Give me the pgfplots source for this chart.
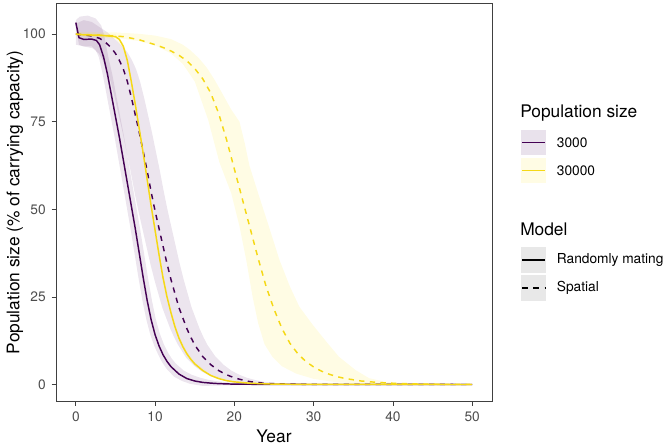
\documentclass[border=0pt]{standalone}
\usepackage{pgfplots}
\pgfplotsset{compat=1.18}
\usepackage{fontspec}
\setmainfont{TeX Gyre Heros}
\definecolor{cA}{HTML}{440154}
\definecolor{cB}{HTML}{F5D816}
\definecolor{fA}{HTML}{FDE725}
\definecolor{kA}{RGB}{233,226,236}
\definecolor{kB}{RGB}{255,252,228}
\definecolor{kG}{RGB}{232,232,232}
\newcommand{\smallf}{\fontsize{10.3}{12}\selectfont}
\newcommand{\titlef}{\fontsize{13}{15}\selectfont}
\begin{document}
\begin{tikzpicture}
\path[use as bounding box] (0,0) rectangle (501pt,333.75pt);
\begin{axis}[
  at={(42pt,32.5pt)}, anchor=south west,
  scale only axis, width=327pt, height=299pt,
  xmin=-2.5, xmax=52.5, ymin=-4.9, ymax=108.9,
  xtick={0,10,20,30,40,50}, ytick={0,25,50,75,100},
  tick align=outside, tick pos=left,
  major tick length=3.2pt,
  axis line style={black!75, line width=0.6pt},
  every tick/.style={black!75, line width=0.6pt},
  ticklabel style={font=\smallf, text=black!70},
  /pgf/number format/assume math mode=true,
  xticklabel style={yshift=-1pt},
  yticklabel style={xshift=-1pt},
  xlabel={Year}, ylabel={Population size (\% of carrying capacity)},
  label style={font=\titlef},
  xlabel style={at={(axis description cs:0.5,-0.0878)}, anchor=center},
  ylabel style={at={(axis description cs:-0.094,0.5)}, anchor=center},
]
% bands
\addplot[draw=none, fill=cA, fill opacity=0.1] coordinates {
(0,104) (0.5,105) (1.5,105.3) (2.5,104.5) (3.2,102.5) (3.6,99.5) (4.1,93.5) (4.6,88.5) (5.1,82.5) (5.6,76.5) (6.1,70.5) (6.6,64) (7.1,57.5) (7.6,51) (8.1,44.5) (8.6,37.5) (9.1,30.5) (9.6,24) (10.1,18.5) (10.6,14.5) (11.1,11.5) (11.6,9.2) (12.1,7.4) (12.6,6) (13.6,4) (14.6,2.8) (15.6,2) (16.6,1.4) (17.6,1) (19,0.6) (21,0.3) (25,0.1) (30,0.03) (50,0)
(50,0) (30,0) (20,-0.2) (16,-0.4) (14.4,0.2) (13.4,1.0) (12.4,2.2) (11.4,4.6) (10.9,6.3) (10.4,8.5) (9.9,11) (9.4,14.2) (8.9,18.5) (8.4,24) (7.9,30.5) (7.4,37.5) (6.9,44.5) (6.4,51) (5.9,57.5) (5.4,64) (4.9,70.5) (4.4,76.5) (3.9,82.5) (3.4,88.5) (2.9,93.5) (2.5,95.5) (2,96.5) (1,96.5) (0.4,97) (0,102)
} -- cycle;
\addplot[draw=none, fill=cA, fill opacity=0.1] coordinates {
(0,103) (1,104) (2,103.5) (3,102) (4,100.5) (5.3,97.8) (6.1,96) (6.6,94.5) (7.1,92.5) (7.6,90) (8.1,86.5) (8.6,82) (9.1,77) (9.6,72) (10.1,66.5) (10.6,61) (11.1,55) (11.6,49.5) (12.1,44.5) (12.6,39.5) (13.1,34.5) (13.6,30) (14.1,26) (14.6,22) (15.1,19) (15.6,16) (16.1,13.5) (16.6,11.3) (17.6,8) (18.6,5.7) (19.6,4) (20.6,2.8) (21.6,1.9) (22.6,1.3) (23.6,0.8) (25.6,0.3) (28.6,0.1) (32,0.03) (50,0)
(50,0) (25,0) (22,0.1) (19.9,0.5) (18.9,1.0) (17.9,1.6) (16.9,2.5) (15.9,3.7) (14.9,5.4) (13.9,7.7) (12.9,11.3) (12.4,13.5) (11.9,16) (11.4,19) (10.9,22) (10.4,26) (9.9,30) (9.4,34.5) (8.9,39.5) (8.4,44.5) (7.9,49.5) (7.4,55) (6.9,61) (6.4,66.5) (5.9,72) (5.4,77) (4.9,82) (4.4,86.5) (3.9,90) (3.4,92.5) (2.9,94.5) (2.1,96) (1,96.5) (0,97)
} -- cycle;
\addplot[draw=none, fill=fA, fill opacity=0.12] coordinates {
(0,100.6) (5,100.5) (8,100.1) (10,99.6) (12,98.6) (13.5,97) (14.4,95.5) (15.5,93.2) (16.5,90.5) (17.5,87) (18.5,83) (19.6,78.5) (20.65,75) (21.3,69) (21.9,62.5) (23,54.6) (24.3,45.5) (25.7,35.5) (27,28) (28.2,22.2) (29.9,17) (31.5,12.5) (33.2,7.9) (35.3,4.1) (37,1.8) (39,0.8) (42,0.3) (46,0.1) (50,0)
(50,0) (42,0.05) (37,0.2) (33,0.6) (30,1.6) (27.8,3.1) (26,5.2) (24.8,7.9) (23.8,11.5) (23,17.5) (22.3,25) (21.5,35.5) (20.65,45.1) (19.6,54.6) (18.1,63.5) (16.7,75.5) (15,86.5) (13.5,91.5) (12,94.5) (10,96.8) (8,98) (5,99) (0,99.4)
} -- cycle;
\addplot[draw=none, fill=fA, fill opacity=0.1] coordinates {
(0,100.3) (5,100) (6,97.3) (7,87.5) (8,74.2) (9,59.8) (10,45.3) (11,31.8) (12,21.5) (13,14.2) (14,9.5) (15,6.4) (17,2.9) (20,0.9) (25,0.15) (50,0)
(50,0) (25,0.05) (20,0.6) (17,2.3) (15,5.4) (14,8.1) (13,12.4) (12,19.5) (11,29.2) (10,42.7) (9,57.2) (8,71.8) (7,85.5) (6,95.7) (5,98.6) (0,99.7)
} -- cycle;
% lines
\addplot[cA, line width=1.1pt] coordinates {
(0,103.3) (0.4,99.0) (1,98.5) (2,98.6) (2.6,98.2) (3,97) (3.5,93.5) (4,88.5) (4.5,82.5) (5,76.5) (5.5,70.5) (6,64) (6.5,57.5) (7,51) (7.5,44.5) (8,37.5) (8.5,30.5) (9,24) (9.5,18.5) (10,14.2) (10.5,11) (11,8.5) (11.5,6.6) (12,5.1) (13,3) (14,1.7) (15,1.0) (16,0.6) (17,0.4) (18,0.25) (20,0.1) (25,0.02) (30,0) (50,0)
};
\addplot[cA, line width=1.1pt, dash pattern=on 4pt off 4pt] coordinates {
(0,100) (1,99.8) (2,99.5) (3,98.8) (3.7,97.8) (4.5,96) (5,94.5) (5.5,92.5) (6,90) (6.5,86.5) (7,82) (7.5,77) (8,72) (8.5,66.5) (9,61) (9.5,55) (10,49.5) (10.5,44.5) (11,39.5) (11.5,34.5) (12,30) (12.5,26) (13,22) (13.5,19) (14,16) (14.5,13.5) (15,11.3) (16,8) (17,5.7) (18,4) (19,2.8) (20,1.9) (21,1.3) (22,0.8) (24,0.3) (27,0.1) (30,0.03) (50,0)
};
\addplot[cB, line width=1.1pt] coordinates {
(0,100) (1,99.8) (3,99.7) (5,99.3) (5.5,98.5) (6,96.5) (6.5,92.5) (7,86.5) (7.5,80) (8,73) (8.5,66) (9,58.5) (9.5,51) (10,44) (10.5,37) (11,30.5) (11.5,25) (12,20.5) (12.5,16.5) (13,13.3) (13.5,10.8) (14,8.8) (14.5,7.2) (15,5.9) (16,4) (17,2.6) (18,1.7) (19,1.1) (20,0.75) (22,0.35) (25,0.1) (30,0.02) (50,0)
};
\addplot[cB, line width=1.1pt, dash pattern=on 4pt off 4pt] coordinates {
(0,100) (2,99.8) (4,99.6) (6,99.3) (8,98.4) (10,97) (11,96.2) (12,95.2) (13,94) (14,92.4) (15,90.2) (16,87.3) (17,83.3) (18,77.5) (19,70) (20,61.5) (21,53) (22,44.5) (23,36) (24,28) (25,21.5) (26,16) (27,11.8) (28,8.8) (29,6.6) (30,5) (31,3.8) (32,2.9) (33,2.2) (34,1.7) (36,1.0) (38,0.6) (40,0.35) (43,0.15) (46,0.05) (50,0)
};
\end{axis}
% legend
\node[anchor=base west, inner sep=0, font=\titlef] at (390pt,245.8pt) {Population size};
\fill[kA] (390.75pt,217.5pt) rectangle (409.5pt,236.25pt);
\draw[cA, line width=1.1pt] (391.5pt,226.9pt) -- (408.75pt,226.9pt);
\node[anchor=west, inner sep=0, font=\smallf] at (417.5pt,226.9pt) {3000};
\fill[kB] (390.75pt,196.5pt) rectangle (409.5pt,215.25pt);
\draw[cB, line width=1.1pt] (391.5pt,205.9pt) -- (408.75pt,205.9pt);
\node[anchor=west, inner sep=0, font=\smallf] at (417.5pt,205.9pt) {30000};
\node[anchor=base west, inner sep=0, font=\titlef] at (390pt,156.75pt) {Model};
\fill[kG] (390.75pt,129pt) rectangle (409.5pt,148.5pt);
\draw[black, line width=1.1pt] (391.5pt,138.75pt) -- (408.75pt,138.75pt);
\node[anchor=west, inner sep=0, font=\smallf] at (417.5pt,138.75pt) {Randomly mating};
\fill[kG] (390.75pt,108pt) rectangle (409.5pt,127.5pt);
\draw[black, line width=1.1pt, dash pattern=on 4.5pt off 4pt] (391.5pt,117.75pt) -- (408.75pt,117.75pt);
\node[anchor=west, inner sep=0, font=\smallf] at (417.5pt,117.75pt) {Spatial};
\end{tikzpicture}
\end{document}
